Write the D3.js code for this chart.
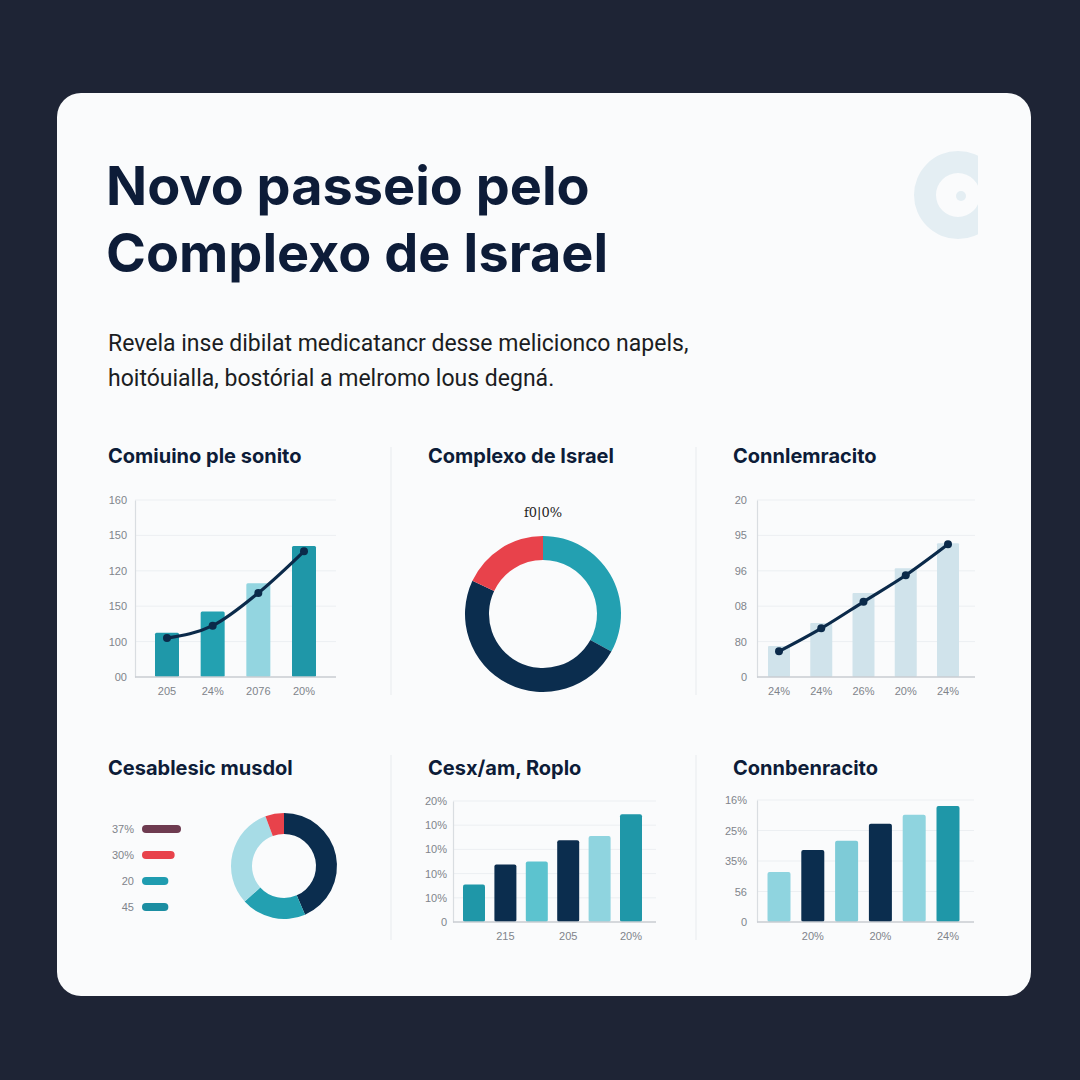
<!DOCTYPE html>
<html><head><meta charset="utf-8">
<script src="https://cdn.jsdelivr.net/npm/d3@7/dist/d3.min.js"></script>
<style>
html,body{margin:0;padding:0;background:#1e2435;}
svg{display:block;}
</style></head>
<body>
<svg id="c" width="1080" height="1080"></svg>
<script>
// ---------- DATA ----------
const titleLines = ["Novo passeio pelo", "Complexo de Israel"];
const subtitleLines = ["Revela inse dibilat medicatancr desse melicionco napels,", "hoitóuialla, bostórial a melromo lous degná."];

// Panel 1: bars + line
const p1Title = "Comiuino ple sonito";
const p1Cats = ["205", "24%", "2076", "20%"];
const p1Bars = [25, 37, 53, 74];
const p1Line = [22, 29, 47.5, 71];
const p1TickLabels = ["00", "100", "150", "120", "150", "160"];
const p1Colors = ["#1f98a9", "#23a1b1", "#93d5e0", "#1f97a8"];

// Panel 2: donut
const p2Title = "Complexo de Israel";
const p2Label = "f0|0%";
const p2Values = [33, 49, 18];
const p2Colors = ["#23a0b1", "#0b2d4e", "#e8424b"];

// Panel 3: bars + line
const p3Title = "Connlemracito";
const p3Cats = ["24%", "24%", "26%", "20%", "24%"];
const p3Bars = [17.5, 30.5, 47.5, 61.5, 75.5];
const p3Line = [14.5, 27.5, 42.5, 57.5, 75];
const p3TickLabels = ["0", "80", "08", "96", "95", "20"];

// Panel 4: legend + donut
const p4Title = "Cesablesic musdol";
const p4LegendLabels = ["37%", "30%", "20", "45"];
const p4LegendValues = [37, 31, 25, 25];
const p4LegendColors = ["#6e3b50", "#e8424b", "#1f9cb0", "#1b8ea2"];
const p4Values = [43.5, 19.8, 31, 5.7];
const p4Colors = ["#0b2d4e", "#23a0b1", "#a7dce6", "#e8424b"];

// Panel 5: bars
const p5Title = "Cesx/am, Roplo";
const p5Bars = [31, 47.5, 50, 67.5, 71, 89];
const p5Cats = ["", "215", "", "205", "", "20%"];
const p5TickLabels = ["0", "10%", "10%", "10%", "10%", "20%"];
const p5Colors = ["#1f97a8", "#0b2d4e", "#5cc3cf", "#0b2d4e", "#8fd4df", "#1f97a8"];

// Panel 6: bars
const p6Title = "Connbenracito";
const p6Bars = [41, 59, 66.5, 80.5, 88, 95];
const p6Cats = ["", "20%", "", "20%", "", "24%"];
const p6TickLabels = ["0", "56", "35%", "25%", "16%"];
const p6Colors = ["#8fd4df", "#0b2d4e", "#7ecbd7", "#0b2d4e", "#8fd4df", "#1f97a8"];

// ---------- DRAW ----------
const svg = d3.select("#c");
const NAVY = "#0d1c38";
const TICK = "#80848b";
const tickFont = "'Liberation Sans', Arial, sans-serif";
const titleFont = "Inter, 'Noto Sans', sans-serif";

svg.append("rect").attr("width", 1080).attr("height", 1080).attr("fill", "#1e2435");
svg.append("rect").attr("x", 57).attr("y", 93).attr("width", 974).attr("height", 903)
  .attr("rx", 24).attr("fill", "#fafbfc");

// logo (C shape clipped on the right)
const defs = svg.append("defs");
defs.append("clipPath").attr("id", "logoclip").append("rect")
  .attr("x", -60).attr("y", -60).attr("width", 80).attr("height", 120);
const logo = svg.append("g").attr("transform", "translate(958,195)");
logo.append("path").attr("clip-path", "url(#logoclip)")
  .attr("d", d3.arc()({innerRadius: 22, outerRadius: 44, startAngle: 0, endAngle: Math.PI * 2}))
  .attr("fill", "#e4eef3");
logo.append("circle").attr("cx", 3).attr("cy", 1).attr("r", 5).attr("fill", "#e4eef3");

// title
svg.append("text").attr("font-family", titleFont).attr("font-weight", 700)
  .attr("font-size", 54).attr("fill", NAVY)
  .selectAll("tspan").data(titleLines).join("tspan")
  .attr("x", 106).attr("y", (d, i) => 205 + i * 67).text(d => d);

svg.append("text").attr("font-family", "Roboto, sans-serif").attr("font-size", 23).attr("fill", "#1b1d22")
  .selectAll("tspan").data(subtitleLines).join("tspan")
  .attr("x", 108).attr("y", (d, i) => 351 + i * 35).text(d => d);

// dividers
const div = svg.append("g").attr("stroke", "#eef0f3").attr("stroke-width", 1.5);
div.append("line").attr("x1", 391).attr("x2", 391).attr("y1", 447).attr("y2", 695);
div.append("line").attr("x1", 391).attr("x2", 391).attr("y1", 755).attr("y2", 940);
div.append("line").attr("x1", 696).attr("x2", 696).attr("y1", 447).attr("y2", 695);
div.append("line").attr("x1", 696).attr("x2", 696).attr("y1", 755).attr("y2", 940);

function panelTitle(x, y, t) {
  svg.append("text").attr("x", x).attr("y", y).attr("font-family", titleFont)
    .attr("font-weight", 700).attr("font-size", 20).attr("fill", NAVY).text(t);
}

function barChart(o) {
  const g = svg.append("g");
  const y = d3.scaleLinear().domain([0, 100]).range([o.y0, o.y1]);
  const n = o.tickLabels.length;
  const tickVals = d3.range(n).map(i => i * 100 / (n - 1));
  const x = d3.scalePoint().domain(d3.range(o.bars.length)).range([o.c0, o.c1]);
  const bw = o.bw;
  // grid
  g.append("g").selectAll("line").data(tickVals.slice(1)).join("line")
    .attr("x1", o.axisX).attr("x2", o.gridEnd).attr("y1", d => y(d)).attr("y2", d => y(d))
    .attr("stroke", "#eceff2").attr("stroke-width", 1);
  // y axis
  const ax = g.append("g").attr("transform", `translate(${o.axisX},0)`)
    .call(d3.axisLeft(y).tickValues(tickVals).tickSize(0).tickPadding(o.tickPad).tickFormat((d, i) => o.tickLabels[i]));
  ax.select(".domain").attr("stroke", "#d9dde1").attr("stroke-width", 1.2);
  ax.selectAll("text").attr("font-family", tickFont).attr("font-size", 11).attr("fill", TICK);
  // bars
  g.append("g").selectAll("rect").data(o.bars).join("rect")
    .attr("x", (d, i) => x(i) - bw / 2).attr("width", bw)
    .attr("y", d => y(d)).attr("height", d => o.y0 - y(d))
    .attr("rx", o.rx || 0).attr("fill", (d, i) => Array.isArray(o.colors) ? o.colors[i] : o.colors);
  // baseline
  g.append("line").attr("x1", o.axisX).attr("x2", o.gridEnd).attr("y1", o.y0).attr("y2", o.y0)
    .attr("stroke", "#c9cdd2").attr("stroke-width", 1.3);
  // x labels
  g.append("g").selectAll("text").data(o.cats).join("text")
    .attr("x", (d, i) => x(i) + (o.labelShift || 0)).attr("y", o.y0 + 18)
    .attr("text-anchor", "middle").attr("font-family", tickFont).attr("font-size", 11).attr("fill", TICK)
    .text(d => d);
  // line
  if (o.line) {
    const pts = o.line.map((v, i) => [x(i), y(v)]);
    g.append("path").attr("d", d3.line().curve(d3.curveMonotoneX)(pts))
      .attr("fill", "none").attr("stroke", "#0b2a4a").attr("stroke-width", 3.2);
    g.append("g").selectAll("circle").data(pts).join("circle")
      .attr("cx", d => d[0]).attr("cy", d => d[1]).attr("r", 4).attr("fill", "#0b2a4a");
  }
}

function donut(cx, cy, ri, ro, values, colors) {
  const pie = d3.pie().sort(null)(values);
  const arc = d3.arc().innerRadius(ri).outerRadius(ro);
  svg.append("g").attr("transform", `translate(${cx},${cy})`)
    .selectAll("path").data(pie).join("path").attr("d", arc).attr("fill", (d, i) => colors[i]);
}

// Panel 1
panelTitle(108, 463, p1Title);
barChart({c0: 167, c1: 304, bw: 24, y0: 677, y1: 500, axisX: 135, gridEnd: 336, tickPad: 8,
  bars: p1Bars, line: p1Line, cats: p1Cats, tickLabels: p1TickLabels, colors: p1Colors, rx: 1.5});

// Panel 2
panelTitle(428, 463, p2Title);
svg.append("text").attr("x", 543).attr("y", 517).attr("text-anchor", "middle")
  .attr("font-family", "'DejaVu Serif', serif").attr("font-size", 13).attr("fill", "#222").text(p2Label);
donut(543, 614, 54, 78, p2Values, p2Colors);

// Panel 3
panelTitle(733, 463, p3Title);
barChart({c0: 779, c1: 948, bw: 22, y0: 677, y1: 500, axisX: 757, gridEnd: 975, tickPad: 10,
  bars: p3Bars, line: p3Line, cats: p3Cats, tickLabels: p3TickLabels, colors: "#d0e3eb", rx: 1});

// Panel 4
panelTitle(108, 775, p4Title);
const lx = d3.scaleLinear().domain([0, 37]).range([0, 39]);
const lg = svg.append("g");
lg.selectAll("rect").data(p4LegendValues).join("rect")
  .attr("x", 142).attr("y", (d, i) => 825 + i * 26).attr("width", d => lx(d)).attr("height", 8).attr("rx", 4)
  .attr("fill", (d, i) => p4LegendColors[i]);
lg.selectAll("text").data(p4LegendLabels).join("text")
  .attr("x", 134).attr("y", (d, i) => 833 + i * 26).attr("text-anchor", "end")
  .attr("font-family", tickFont).attr("font-size", 11).attr("fill", TICK).text(d => d);
donut(284, 866, 32, 53, p4Values, p4Colors);

// Panel 5
panelTitle(428, 775, p5Title);
barChart({c0: 474, c1: 631, bw: 22, y0: 922, y1: 801, axisX: 453, gridEnd: 656, tickPad: 6,
  bars: p5Bars, cats: p5Cats, tickLabels: p5TickLabels, colors: p5Colors, rx: 2});

// Panel 6
panelTitle(733, 775, p6Title);
barChart({c0: 779, c1: 948, bw: 23, y0: 922, y1: 800, axisX: 757, gridEnd: 974, tickPad: 10,
  bars: p6Bars, cats: p6Cats, tickLabels: p6TickLabels, colors: p6Colors, rx: 2});
</script>
</body></html>
